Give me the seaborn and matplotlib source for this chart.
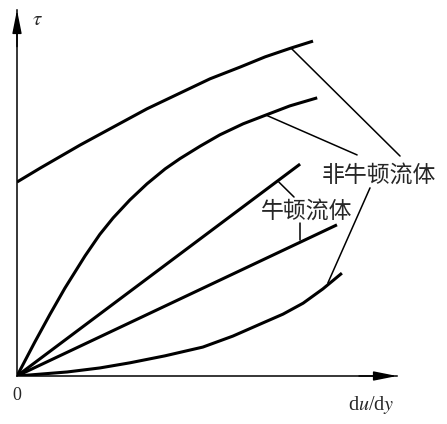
import pandas as pd
import matplotlib
matplotlib.use("Agg")
import matplotlib.pyplot as plt
import seaborn as sns

# values (du/dy on x, tau on y, arbitrary units)
top_x = [0, 0.61, 1.66, 2.53, 3.42, 4.29, 5.08, 5.87, 6.53, 7.21, 7.79]
top_y = [5.30, 5.68, 6.31, 6.80, 7.30, 7.73, 8.12, 8.44, 8.72, 8.96, 9.15]

pseudo_x = [0, 0.47, 0.87, 1.26, 1.79, 2.18, 2.53, 2.97, 3.42, 3.90, 4.29,
            4.82, 5.34, 5.95, 6.55, 7.18, 7.90]
pseudo_y = [0, 0.93, 1.69, 2.40, 3.28, 3.87, 4.32, 4.81, 5.25, 5.66, 5.94,
            6.28, 6.59, 6.89, 7.13, 7.38, 7.60]

newton1_x = [0, 7.45]
newton1_y = [0, 5.79]

newton2_x = [0, 8.42]
newton2_y = [0, 4.13]

dilat_x = [0, 1.32, 2.18, 2.97, 3.89, 4.89, 5.68, 6.47, 7.00, 7.53, 8.05, 8.55]
dilat_y = [0, 0.11, 0.22, 0.36, 0.55, 0.79, 1.09, 1.45, 1.69, 1.99, 2.38, 2.81]

label_nonnewton = "非牛顿流体"
label_newton = "牛顿流体"

frames = []
for name, xs, ys in [("top", top_x, top_y), ("pseudo", pseudo_x, pseudo_y),
                     ("newton1", newton1_x, newton1_y), ("newton2", newton2_x, newton2_y),
                     ("dilat", dilat_x, dilat_y)]:
    frames.append(pd.DataFrame({"x": xs, "y": ys, "curve": name}))
df = pd.concat(frames, ignore_index=True)

sns.set_style("white")
plt.rcParams["font.family"] = ["Noto Sans CJK SC", "DejaVu Sans"]
plt.rcParams["mathtext.fontset"] = "stix"

fig = plt.figure(figsize=(4.47, 4.24), dpi=100)
ax = fig.add_axes([17 / 447, 48 / 424, 380 / 447, 366 / 424])

sns.lineplot(data=df, x="x", y="y", units="curve", estimator=None, sort=False,
             color="black", linewidth=2.2, ax=ax, legend=False,
             solid_joinstyle="round", solid_capstyle="butt")

ax.set_xlim(0, 10)
ax.set_ylim(0, 10)
ax.set_xticks([])
ax.set_yticks([])
ax.set_xlabel("")
ax.set_ylabel("")
for s in ["top", "right"]:
    ax.spines[s].set_visible(False)
for s in ["left", "bottom"]:
    ax.spines[s].set_linewidth(1.1)
    ax.spines[s].set_color("black")

# arrow heads on the axes
arrow = dict(arrowstyle="-|>,head_length=1.4,head_width=0.28", color="black",
             lw=1.1, mutation_scale=10, shrinkA=0, shrinkB=0)
ax.annotate("", xy=(1, 0), xytext=(0.9, 0), xycoords="axes fraction", arrowprops=arrow)
ax.annotate("", xy=(0, 1), xytext=(0, 0.9), xycoords="axes fraction", arrowprops=arrow)

# leader lines to the labels
leaders = [
    ([7.21, 10.08], [8.96, 6.01]),
    ([6.55, 8.95], [7.13, 6.04]),
    ([8.18, 9.29], [2.54, 5.14]),
    ([6.89, 7.29], [5.30, 4.89]),
    ([7.45, 7.45], [3.72, 4.18]),
]
for lx, ly in leaders:
    ax.plot(lx, ly, color="black", lw=1.1, clip_on=False)

ax.text(9.52, 5.49, label_nonnewton, fontsize=16.5, ha="center", va="center")
ax.text(7.61, 4.51, label_newton, fontsize=16.5, ha="center", va="center")

ax.text(0.55, 9.75, r"$\tau$", fontsize=15, ha="center", va="center")
ax.text(0, -0.52, "0", fontsize=13, family="Liberation Serif", ha="center", va="center")
ax.text(9.32, -0.80, r"d$\mathit{u}$/d$\mathit{y}$", fontsize=14.5,
        family="Liberation Serif", ha="center", va="center")

fig.savefig("out.png", dpi=100)
